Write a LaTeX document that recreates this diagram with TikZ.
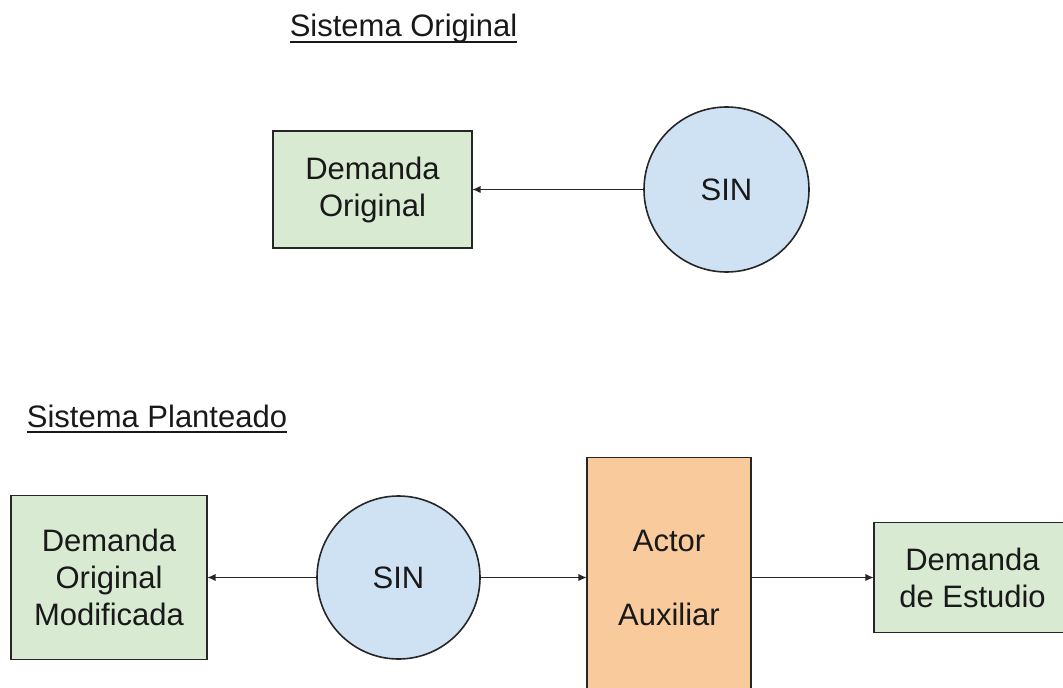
\documentclass[tikz,border=0pt]{standalone}
\usepackage{fontspec}
\setmainfont{Liberation Sans}
\usetikzlibrary{positioning}
\usetikzlibrary{arrows.meta}
\tikzset{>=latex}
\newlength{\pxu}
\setlength{\pxu}{0.75pt}
\definecolor{mygreen}{HTML}{D9EAD3}
\definecolor{myblue}{HTML}{CFE2F3}
\definecolor{myorange}{HTML}{F9CB9C}
\colorlet{myline}{black!85}
\newcommand{\mytext}{\fontsize{23.25}{27.75}\selectfont}
\newcommand{\myul}[1]{\setbox0=\hbox{#1}\rlap{\rule[-6\pxu]{\wd0}{2\pxu}}\box0}
\tikzstyle{mybox}=[draw=myline,fill=#1,line width=1.2pt,align=center,inner sep=0pt,
                   outer sep=0pt,font=\mytext,text=black!90]
\tikzstyle{mycircle}=[mybox=#1,circle]
\tikzstyle{mytitle}=[anchor=base,inner sep=0pt,font=\mytext,text=black!90]
\tikzstyle{myarrow}=[-{Latex[length=6.5pt,width=5.5pt]},myline,line width=1.2pt]

\begin{document}
\begin{tikzpicture}[x=\pxu,y=-\pxu]
  \useasboundingbox (0,0) rectangle (1063,688);
  \def\yb{577.5} % row of the second system

  % sistema original
  \node[mytitle] (tit1) at (403.5,37) {\myul{Sistema Original}};

  \node[mycircle=myblue,minimum size=165*\pxu] (sin1) at (726.5,189.5) {SIN};

  \node[mybox=mygreen,minimum width=199*\pxu,minimum height=117*\pxu,
        left=129pt of sin1] (dorig) {
    Demanda\\Original
  };
  \draw[myarrow] (sin1) -- (dorig);

  % sistema planteado
  \node[mytitle] (tit2) at (157,427) {\myul{Sistema Planteado}};

  \node[mycircle=myblue,minimum size=163*\pxu] (sin2) at (398.5,\yb) {SIN};

  \node[mybox=mygreen,minimum width=196*\pxu,minimum height=164*\pxu,
        left=82.5pt of sin2] (dmod) {
    Demanda\\Original\\Modificada
  };
  \draw[myarrow] (sin2) -- (dmod);

  \node[mybox=myorange,minimum width=164*\pxu,minimum height=240*\pxu,
        right=80.25pt of sin2] (aux) {
    Actor\\[37\pxu]Auxiliar
  };
  \draw[myarrow] (sin2) -- (aux);

  \node[mybox=mygreen,minimum width=197*\pxu,minimum height=110*\pxu,
        right=92.25pt of aux] (dest) {
    Demanda\\de Estudio
  };
  \draw[myarrow] (aux) -- (dest);

\end{tikzpicture}
\end{document}
